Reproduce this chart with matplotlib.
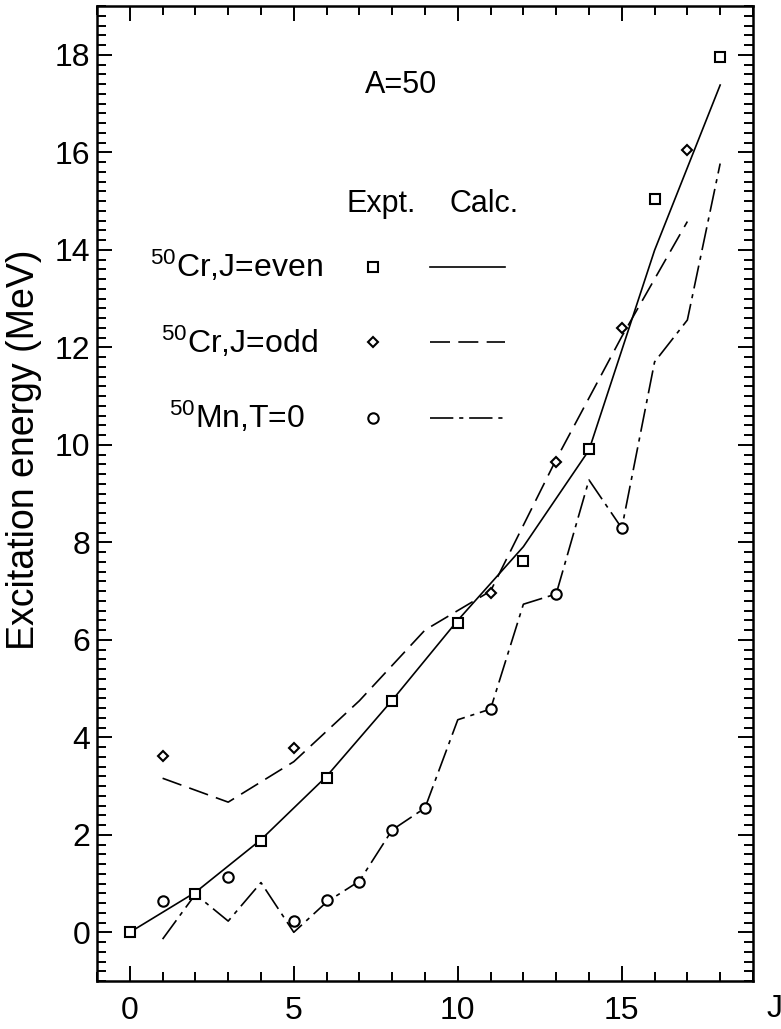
import numpy as np
import matplotlib
matplotlib.use("Agg")
import matplotlib.pyplot as plt
from matplotlib.ticker import MultipleLocator

plt.rcParams['font.family'] = ['Liberation Sans', 'DejaVu Sans']
plt.rcParams['mathtext.fontset'] = 'custom'
plt.rcParams['mathtext.rm'] = 'Liberation Sans'
plt.rcParams['mathtext.it'] = 'Liberation Sans'

# 50Cr, J even
j_even = [0, 2, 4, 6, 8, 10, 12, 14, 16, 18]
e_even_expt = [0.0, 0.78, 1.88, 3.16, 4.74, 6.34, 7.62, 9.91, 15.04, 17.96]
e_even_calc = [0.0, 0.82, 1.90, 3.20, 4.76, 6.40, 7.91, 9.89, 13.99, 17.38]

# 50Cr, J odd
j_odd_expt = [1, 5, 11, 13, 15, 17]
e_odd_expt = [3.62, 3.79, 6.95, 9.64, 12.39, 16.05]
j_odd_calc = [1, 3, 5, 7, 9, 11, 13, 15, 17]
e_odd_calc = [3.16, 2.67, 3.50, 4.75, 6.20, 7.00, 9.70, 12.22, 14.58]

# 50Mn, T=0
j_mn_expt = [1, 3, 5, 6, 7, 8, 9, 11, 13, 15]
e_mn_expt = [0.64, 1.14, 0.24, 0.66, 1.03, 2.10, 2.54, 4.58, 6.94, 8.29]
j_mn_calc = list(range(1, 19))
e_mn_calc = [-0.14, 0.78, 0.23, 1.02, 0.0, 0.62, 1.05, 2.10, 2.55,
             4.36, 4.58, 6.73, 6.94, 9.28, 8.29, 11.70, 12.56, 15.77]

lw = 1.2
dashed = (0, (12, 5))
dashdot = (0, (14, 3.5, 2.5, 3.5))
mk = dict(linestyle='none', mfc='white', mec='black', mew=1.5)

fig = plt.figure(figsize=(7.81, 10.29), dpi=100)
ax = fig.add_axes([0.1242, 0.0466, 0.8399, 0.9475])

# calculated curves
ax.plot(j_even, e_even_calc, color='black', lw=lw, ls='-')
ax.plot(j_odd_calc, e_odd_calc, color='black', lw=lw, ls=dashed)
ax.plot(j_mn_calc, e_mn_calc, color='black', lw=lw, ls=dashdot)

# experimental points
ax.plot(j_even, e_even_expt, marker='s', ms=7.5, **mk)
ax.plot(j_odd_expt, e_odd_expt, marker='D', ms=5.5, **mk)
ax.plot(j_mn_expt, e_mn_expt, marker='o', ms=7.5, **mk)

ax.set_xlim(-1, 19)
ax.set_ylim(-1, 19)
ax.xaxis.set_major_locator(MultipleLocator(5))
ax.xaxis.set_minor_locator(MultipleLocator(1))
ax.yaxis.set_major_locator(MultipleLocator(2))
ax.yaxis.set_minor_locator(MultipleLocator(0.2))
ax.tick_params(which='both', direction='in', top=True, right=True, width=1.4)
ax.tick_params(which='major', length=10.5)
ax.tick_params(which='minor', length=6.5)
ax.tick_params(axis='x', which='major', pad=11, labelsize=23)
ax.tick_params(axis='y', which='major', pad=5, labelsize=23)
for s in ax.spines.values():
    s.set_linewidth(1.8)

ax.set_ylabel('Excitation energy (MeV)', fontsize=27)
ax.yaxis.set_label_coords(-0.084, 0.545)
ax.text(1.021, -0.0287, 'J', transform=ax.transAxes, fontsize=23,
        ha='left', va='center')

# annotation and hand-made legend
ax.text(0.4085, 0.9105, 'A=50', transform=ax.transAxes, fontsize=22,
        ha='left', va='baseline')
ax.text(0.3806, 0.789, 'Expt.', transform=ax.transAxes, fontsize=22,
        ha='left', va='baseline')
ax.text(0.538, 0.789, 'Calc.', transform=ax.transAxes, fontsize=22,
        ha='left', va='baseline')

rows = [
    (r'$^{50}$Cr,J=even', 0.3445, 0.7224, 0.7326, 's', 7.5, '-'),
    (r'$^{50}$Cr,J=odd', 0.337, 0.6444, 0.655, 'D', 5.5, dashed),
    (r'$^{50}$Mn,T=0', 0.317, 0.5669, 0.578, 'o', 7.5, dashdot),
]
for label, xr, yb, yc, m, ms, ls in rows:
    ax.text(xr, yb, label, transform=ax.transAxes, fontsize=23,
            ha='right', va='baseline')
    ax.plot([0.421], [yc], marker=m, ms=ms, transform=ax.transAxes,
            clip_on=False, **mk)
    ax.plot([0.508, 0.622], [yc, yc], color='black', lw=lw, ls=ls,
            transform=ax.transAxes)

fig.savefig('out.png', dpi=100)
